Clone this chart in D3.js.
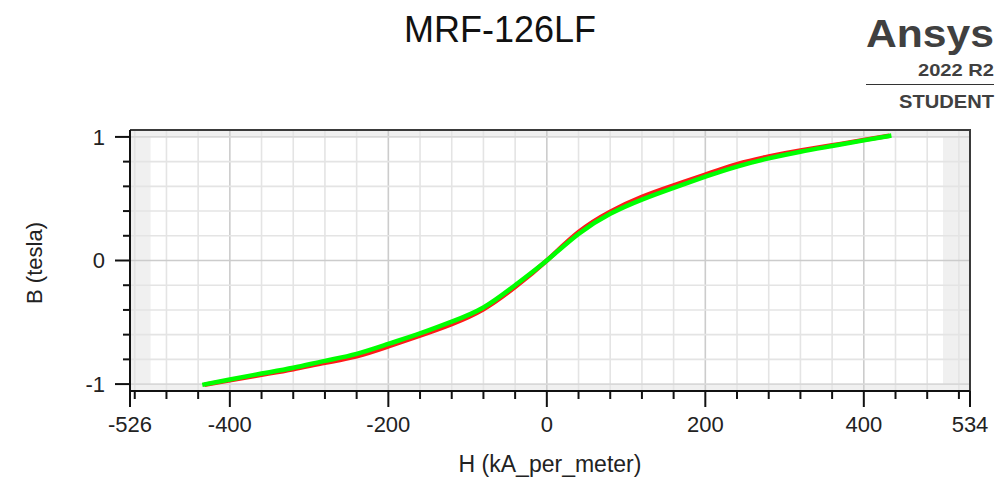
<!DOCTYPE html>
<html>
<head>
<meta charset="utf-8">
<script src="https://cdn.jsdelivr.net/npm/d3@7"></script>
<style>
  html, body { margin: 0; padding: 0; background: #fff; }
  svg { display: block; font-family: "Liberation Sans", Arial, sans-serif; }
</style>
</head>
<body>
<svg id="chart" width="1005" height="482"></svg>
<script>
// H field values (kA/m)
let hValues = [-432, -400, -360, -320, -280, -240, -200, -160, -120, -80, -40, 0,
               40, 80, 120, 160, 200, 240, 280, 320, 360, 400, 432];
// measured B-H curve (red)
let bMeasured = [-1.006, -0.97, -0.925, -0.88, -0.828, -0.775, -0.695, -0.608, -0.515, -0.395, -0.215, 0,
                 0.23, 0.395, 0.515, 0.608, 0.695, 0.78, 0.842, 0.89, 0.932, 0.976, 1.01];
// fitted curve (green)
let bFitted = [-1.003, -0.963, -0.915, -0.868, -0.812, -0.755, -0.675, -0.59, -0.495, -0.38, -0.2, 0,
               0.215, 0.378, 0.493, 0.588, 0.678, 0.76, 0.826, 0.88, 0.926, 0.972, 1.008];

let xMajorTicks = [-400, -200, 0, 200, 400];
let xEndTicks = [-526, 534];
let yMajorTicks = [-1, 0, 1];

let svg = d3.select('#chart');
let plot = {left: 130, right: 970, top: 130, bottom: 391};

let x = d3.scaleLinear().domain([-526, 534]).range([plot.left, plot.right]);
let y = d3.scaleLinear().domain([-1.06, 1.06]).range([plot.bottom + 0.5, plot.top - 0.5]);

let xMinor = d3.range(-520, 534, 40);
let yMinor = d3.range(-1, 1.001, 0.2).map(v => +v.toFixed(2));

// plot background + shaded out-of-range bands
let g = svg.append('g');
g.append('rect')
    .attr('x', plot.left).attr('y', plot.top)
    .attr('width', plot.right - plot.left).attr('height', plot.bottom - plot.top)
    .attr('fill', '#f0f0f0');
g.append('rect')
    .attr('x', x(-500)).attr('y', y(1))
    .attr('width', x(500) - x(-500)).attr('height', y(-1) - y(1))
    .attr('fill', '#fff');

// grid
g.selectAll('.vgrid').data(xMinor).enter().append('line')
    .attr('x1', d => x(d)).attr('x2', d => x(d))
    .attr('y1', plot.top).attr('y2', plot.bottom)
    .attr('stroke', d => d % 200 === 0 ? '#cccccc' : '#e4e4e4')
    .attr('stroke-width', 1.6);
g.selectAll('.hgrid').data(yMinor).enter().append('line')
    .attr('x1', plot.left).attr('x2', plot.right)
    .attr('y1', d => y(d)).attr('y2', d => y(d))
    .attr('stroke', d => Math.abs(d) < 1e-9 ? '#cccccc' : (Math.abs(d) === 1 ? '#d8d8d8' : '#e4e4e4'))
    .attr('stroke-width', 1.6);

// curves
let pts = (bs) => hValues.map((h, i) => [h, bs[i]]);
let line = d3.line()
    .x(d => x(d[0])).y(d => y(d[1]))
    .curve(d3.curveNatural);

g.append('path').datum(pts(bMeasured))
    .attr('d', line).attr('fill', 'none')
    .attr('stroke', '#ff1a1a').attr('stroke-width', 4.5);
g.append('path').datum(pts(bFitted))
    .attr('d', line).attr('fill', 'none')
    .attr('stroke', '#00ff00').attr('stroke-width', 4.5)
    .attr('stroke-linecap', 'square');

// frame (top/right)
g.append('path')
    .attr('d', `M${plot.left},${plot.top}H${plot.right}V${plot.bottom}`)
    .attr('fill', 'none').attr('stroke', '#3a3a3a').attr('stroke-width', 2);

// x axis
let xAxis = svg.append('g').attr('transform', `translate(0,${plot.bottom})`);
xAxis.append('line').attr('x1', plot.left).attr('x2', plot.right)
    .attr('stroke', '#111').attr('stroke-width', 2);
xAxis.selectAll('.minor').data(xMinor.filter(d => d % 200 !== 0)).enter().append('line')
    .attr('x1', d => x(d)).attr('x2', d => x(d)).attr('y1', 0).attr('y2', 8)
    .attr('stroke', '#111').attr('stroke-width', 2);
xAxis.selectAll('.major').data(xMajorTicks.concat(xEndTicks)).enter().append('line')
    .attr('x1', d => x(d)).attr('x2', d => x(d)).attr('y1', 0).attr('y2', 16)
    .attr('stroke', '#111').attr('stroke-width', 2);
xAxis.selectAll('text').data(xEndTicks.slice(0, 1).concat(xMajorTicks, xEndTicks.slice(1))).enter().append('text')
    .attr('x', d => x(d)).attr('y', 41)
    .attr('text-anchor', 'middle')
    .attr('font-size', 22).attr('fill', '#222')
    .text(d => d);

// y axis
let yAxis = svg.append('g').attr('transform', `translate(${plot.left},0)`);
yAxis.append('line').attr('y1', plot.top).attr('y2', plot.bottom)
    .attr('stroke', '#111').attr('stroke-width', 2);
yAxis.selectAll('.minor').data(yMinor.filter(d => Math.abs(d) % 1 !== 0)).enter().append('line')
    .attr('x1', -7).attr('x2', 0).attr('y1', d => y(d)).attr('y2', d => y(d))
    .attr('stroke', '#111').attr('stroke-width', 2);
yAxis.selectAll('.major').data(yMajorTicks).enter().append('line')
    .attr('x1', -15).attr('x2', 0).attr('y1', d => y(d)).attr('y2', d => y(d))
    .attr('stroke', '#111').attr('stroke-width', 2);
yAxis.selectAll('text').data(yMajorTicks).enter().append('text')
    .attr('x', -25).attr('y', d => y(d)).attr('dy', '0.35em')
    .attr('text-anchor', 'end')
    .attr('font-size', 22).attr('fill', '#222')
    .text(d => d);

// titles
svg.append('text').attr('x', 500).attr('y', 42)
    .attr('text-anchor', 'middle').attr('font-size', 36).attr('fill', '#111')
    .text('MRF-126LF');
svg.append('text').attr('x', 550).attr('y', 472)
    .attr('text-anchor', 'middle').attr('font-size', 23).attr('fill', '#222')
    .text('H (kA_per_meter)');
svg.append('text')
    .attr('transform', 'translate(42,263) rotate(-90)')
    .attr('text-anchor', 'middle').attr('font-size', 22).attr('fill', '#222')
    .text('B (tesla)');

// Ansys logo
let logo = svg.append('g').attr('font-weight', 'bold');
logo.append('text').attr('x', 994).attr('y', 47).attr('text-anchor', 'end')
    .attr('font-size', 38).attr('fill', '#404040')
    .attr('textLength', 128).attr('lengthAdjust', 'spacingAndGlyphs')
    .text('Ansys');
logo.append('text').attr('x', 994).attr('y', 76).attr('text-anchor', 'end')
    .attr('font-size', 17).attr('fill', '#404040')
    .attr('textLength', 76).attr('lengthAdjust', 'spacingAndGlyphs')
    .text('2022 R2');
logo.append('line').attr('x1', 866).attr('x2', 994).attr('y1', 84.5).attr('y2', 84.5)
    .attr('stroke', '#333').attr('stroke-width', 1.2);
logo.append('text').attr('x', 994).attr('y', 108).attr('text-anchor', 'end')
    .attr('font-size', 18).attr('fill', '#404040')
    .attr('textLength', 95).attr('lengthAdjust', 'spacingAndGlyphs')
    .text('STUDENT');
</script>
</body>
</html>
